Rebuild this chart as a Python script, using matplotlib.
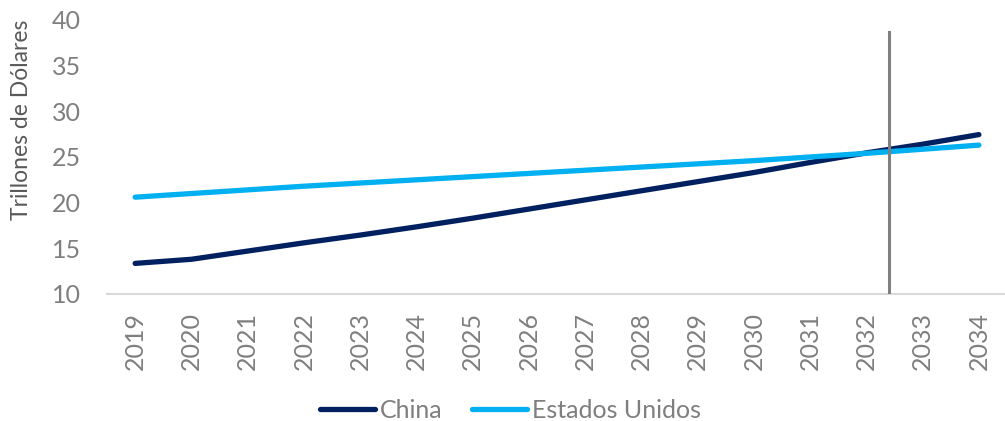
import matplotlib
matplotlib.use("Agg")
import matplotlib.pyplot as plt

years = ["2019", "2020", "2021", "2022", "2023", "2024", "2025", "2026",
         "2027", "2028", "2029", "2030", "2031", "2032", "2033", "2034"]
china = [13.35, 13.8, 14.7, 15.6, 16.45, 17.35, 18.3, 19.3,
         20.3, 21.3, 22.3, 23.3, 24.4, 25.45, 26.4, 27.45]
usa = [20.6, 21.0, 21.4, 21.8, 22.15, 22.5, 22.85, 23.2,
       23.55, 23.9, 24.25, 24.6, 25.0, 25.4, 25.85, 26.3]
series_names = ["China", "Estados Unidos"]
yticks = [10, 15, 20, 25, 30, 35, 40]
vline_x = 13.4
vline_top = 38.7

plt.rcParams['font.family'] = ['Lato', 'DejaVu Sans']
gray = "#7f7f7f"

fig = plt.figure(figsize=(10.05, 4.21), dpi=100)
ax = fig.add_axes([0.1065, 0.3017, 0.8955, 0.6508])

x = list(range(len(years)))
ax.plot(x, china, color="#002060", lw=3.8, solid_capstyle="round", label=series_names[0], zorder=3)
ax.plot(x, usa, color="#00B0F0", lw=3.8, solid_capstyle="round", label=series_names[1], zorder=3)
ax.plot([vline_x, vline_x], [10, vline_top], color="#808080", lw=2.2, zorder=4)

ax.set_xlim(-0.5, len(years) - 0.5)
ax.set_ylim(10, 40)
ax.set_yticks(yticks)
ax.set_xticks(x)
ax.set_xticklabels(years, rotation=90)
ax.tick_params(axis='both', length=0, colors=gray, labelsize=18)
ax.tick_params(axis='y', pad=19)
ax.tick_params(axis='x', pad=13)
for s in ["top", "right", "left"]:
    ax.spines[s].set_visible(False)
ax.spines["bottom"].set_color("#d9d9d9")
ax.spines["bottom"].set_linewidth(1.5)
ax.set_ylabel("Trillones de Dólares", color="#595959", fontsize=16.5)
ax.yaxis.set_label_coords(-0.083, 0.635)

leg = fig.legend(loc="center", bbox_to_anchor=(0.508, 0.026), ncol=2, frameon=False,
                 fontsize=18, handlelength=2.2, handletextpad=0.2, columnspacing=1.2)
for t in leg.get_texts():
    t.set_color(gray)

fig.savefig("out.png", dpi=100)
